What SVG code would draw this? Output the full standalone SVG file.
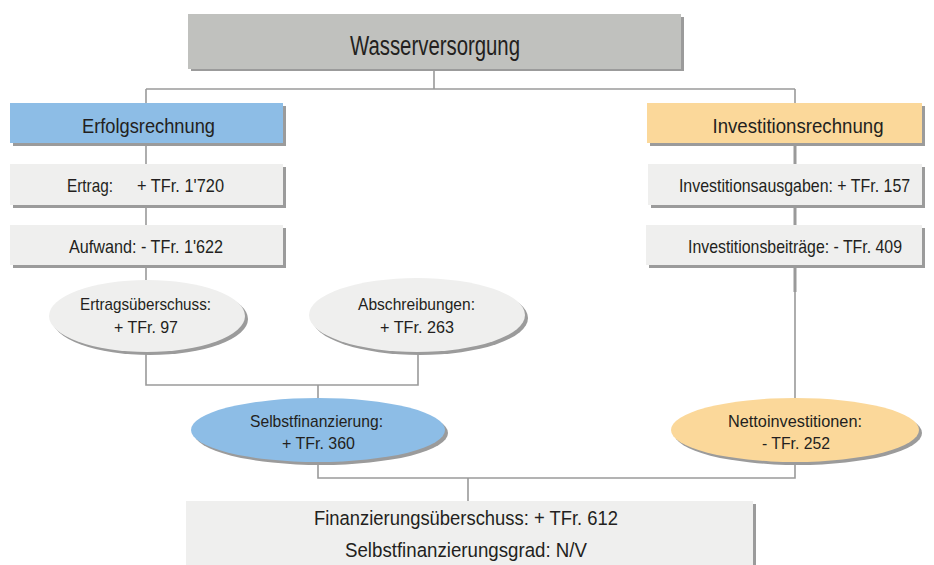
<svg xmlns="http://www.w3.org/2000/svg" width="934" height="565" viewBox="0 0 934 565">
<style>
.t{font-family:"Liberation Sans Narrow","Liberation Sans",Arial,sans-serif;fill:#231f20}
.c{text-anchor:middle}
.ln{fill:none;stroke:#9a9a9a;stroke-width:1.6}
.ln2{fill:none;stroke:#9a9a9a;stroke-width:3}
.sh{fill:#9b9b9b}
.gray{fill:#c0c1be}
.light{fill:#efefee}
.blue{fill:#8dbde6}
.orange{fill:#fbd89a}
</style>
<rect width="934" height="565" fill="#ffffff"/>
<g id="connectors">
<path class="ln" d="M434,69 V89 M146,89 H795 M146,89 V280 M795,89 V399"/>
<path class="ln2" d="M795,143 V164 M795,205 V225 M795,265 V292"/>
<path class="ln" d="M146,352 V385 H418 V352 M318,385 V399"/>
<path class="ln" d="M318,462 V478 H795 V462 M468,478 V501"/>
</g>
<g id="wasserversorgung">
<rect class="sh" x="191" y="17" width="493" height="54"/>
<rect class="gray" x="188" y="14" width="493" height="55"/>
<text class="t c" x="435" y="55" font-size="27" textLength="170" lengthAdjust="spacingAndGlyphs">Wasserversorgung</text>
</g>
<g id="erfolgsrechnung">
<rect class="sh" x="13" y="106" width="273" height="40"/>
<rect class="blue" x="10" y="103" width="273" height="40"/>
<text class="t c" x="148.5" y="133" font-size="21" textLength="133" lengthAdjust="spacingAndGlyphs">Erfolgsrechnung</text>
</g>
<g id="ertrag">
<rect class="sh" x="13" y="167" width="273" height="41"/>
<rect class="light" x="10" y="164" width="273" height="41"/>
<text class="t" x="67" y="191.5" font-size="18.5" textLength="46" lengthAdjust="spacingAndGlyphs">Ertrag:</text>
<text class="t" x="137" y="191.5" font-size="18.5" textLength="87" lengthAdjust="spacingAndGlyphs">+ TFr. 1'720</text>
</g>
<g id="aufwand">
<rect class="sh" x="13" y="228" width="273" height="40"/>
<rect class="light" x="10" y="225" width="273" height="40"/>
<text class="t c" x="146" y="252.5" font-size="18.5" textLength="154" lengthAdjust="spacingAndGlyphs">Aufwand: - TFr. 1'622</text>
</g>
<g id="investitionsrechnung">
<rect class="sh" x="650" y="106" width="275" height="40"/>
<rect class="orange" x="647" y="103" width="275" height="40"/>
<text class="t c" x="798" y="133" font-size="21" textLength="171" lengthAdjust="spacingAndGlyphs">Investitionsrechnung</text>
</g>
<g id="investitionsausgaben">
<rect class="sh" x="651" y="167" width="274" height="41"/>
<rect class="light" x="648" y="164" width="274" height="41"/>
<text class="t c" transform="translate(794.5,191.5) scale(0.8,1)" x="0" y="0" font-size="18.5" textLength="289" lengthAdjust="spacingAndGlyphs">Investitionsausgaben: + TFr. 157</text>
</g>
<g id="investitionsbeitraege">
<rect class="sh" x="649" y="228" width="276" height="40"/>
<rect class="light" x="646" y="225" width="276" height="40"/>
<text class="t c" transform="translate(795,252.5) scale(0.8,1)" x="0" y="0" font-size="18.5" textLength="267.5" lengthAdjust="spacingAndGlyphs">Investitionsbeiträge: - TFr. 409</text>
</g>
<g id="ertragsueberschuss">
<ellipse class="sh" cx="150" cy="319" rx="98" ry="36"/>
<ellipse class="light" cx="147" cy="316" rx="98" ry="36"/>
<text class="t c" x="145.5" y="310" font-size="17" textLength="131" lengthAdjust="spacingAndGlyphs">Ertragsüberschuss:</text>
<text class="t c" x="146" y="333" font-size="17" textLength="64" lengthAdjust="spacingAndGlyphs">+ TFr. 97</text>
</g>
<g id="abschreibungen">
<ellipse class="sh" cx="420" cy="318" rx="108" ry="37"/>
<ellipse class="light" cx="417" cy="315" rx="108" ry="37"/>
<text class="t c" x="416.5" y="310" font-size="17" textLength="117" lengthAdjust="spacingAndGlyphs">Abschreibungen:</text>
<text class="t c" x="417" y="333" font-size="17" textLength="74" lengthAdjust="spacingAndGlyphs">+ TFr. 263</text>
</g>
<g id="selbstfinanzierung">
<ellipse class="sh" cx="321" cy="433" rx="127" ry="32"/>
<ellipse class="blue" cx="318" cy="430" rx="127" ry="32"/>
<text class="t c" x="316.5" y="426.5" font-size="17" textLength="133" lengthAdjust="spacingAndGlyphs">Selbstfinanzierung:</text>
<text class="t c" x="318.5" y="448.5" font-size="17" textLength="73" lengthAdjust="spacingAndGlyphs">+ TFr. 360</text>
</g>
<g id="nettoinvestitionen">
<ellipse class="sh" cx="798" cy="433" rx="124" ry="32"/>
<ellipse class="orange" cx="795" cy="430" rx="124" ry="32"/>
<text class="t c" x="795" y="426.5" font-size="17" textLength="134" lengthAdjust="spacingAndGlyphs">Nettoinvestitionen:</text>
<text class="t c" x="796" y="448.5" font-size="17" textLength="68" lengthAdjust="spacingAndGlyphs">- TFr. 252</text>
</g>
<g id="finanzierungsueberschuss">
<rect class="sh" x="189" y="504" width="567" height="61"/>
<rect class="light" x="186" y="501" width="567" height="64"/>
<text class="t c" x="466" y="525" font-size="20.5" textLength="304" lengthAdjust="spacingAndGlyphs">Finanzierungsüberschuss: + TFr. 612</text>
<text class="t c" x="466" y="557" font-size="20.5" textLength="242" lengthAdjust="spacingAndGlyphs">Selbstfinanzierungsgrad: N/V</text>
</g>
</svg>
